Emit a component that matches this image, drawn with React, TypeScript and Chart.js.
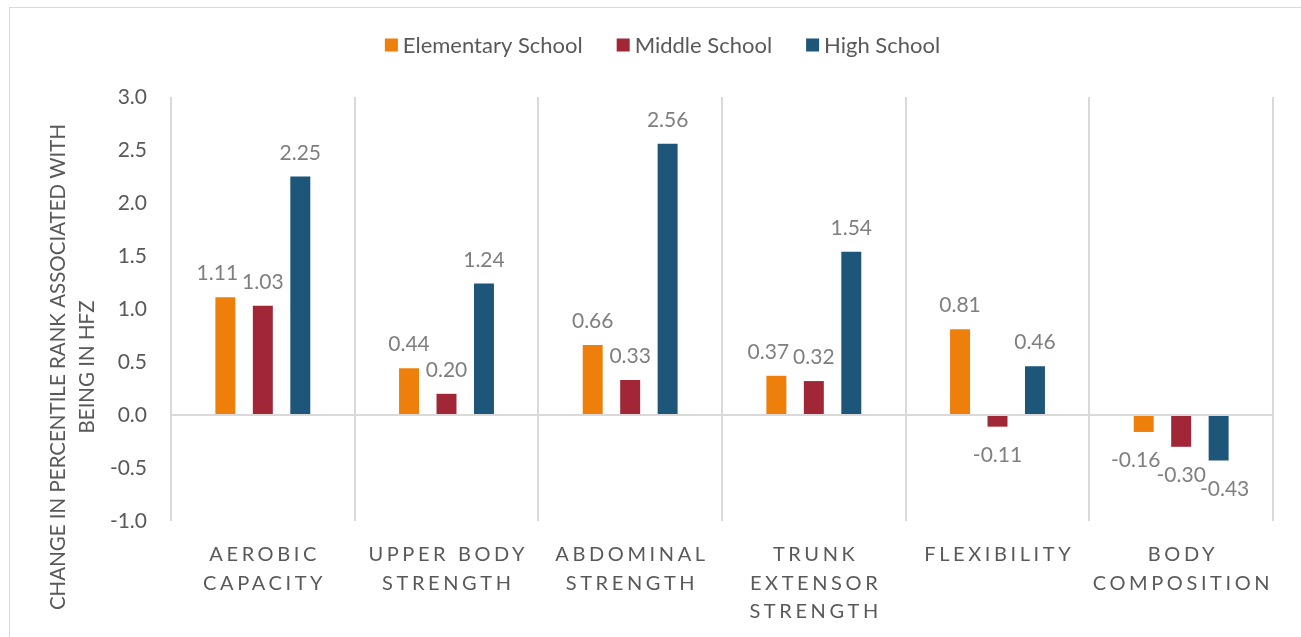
import React, { useEffect, useRef } from 'react';
import { Chart, registerables } from 'chart.js';

Chart.register(...registerables);

// Fitness test components (multi-line category labels)
const categories: string[][] = [
  ['AEROBIC', 'CAPACITY'],
  ['UPPER BODY', 'STRENGTH'],
  ['ABDOMINAL', 'STRENGTH'],
  ['TRUNK', 'EXTENSOR', 'STRENGTH'],
  ['FLEXIBILITY'],
  ['BODY', 'COMPOSITION'],
];

const seriesNames = ['Elementary School', 'Middle School', 'High School'];
const seriesColors = ['#EF7F0B', '#A12636', '#1D5678'];

const elementaryValues = [1.11, 0.44, 0.66, 0.37, 0.81, -0.16];
const middleValues = [1.03, 0.2, 0.33, 0.32, -0.11, -0.3];
const highValues = [2.25, 1.24, 2.56, 1.54, 0.46, -0.43];

const yMin = -1;
const yMax = 3;
const yStep = 0.5;

const yTitleLines = ['CHANGE IN PERCENTILE RANK ASSOCIATED WITH', 'BEING IN HFZ'];

const FONT = 'Lato, "Noto Sans", sans-serif';
const TEXT_DARK = '#595959';
const TEXT_LABEL = '#7F7F7F';
const GRID = '#D9D9D9';

// Draws value labels, the legend, category labels and the y-axis title.
const decorPlugin = {
  id: 'decor',
  afterDatasetsDraw(chart: any) {
    const ctx: CanvasRenderingContext2D = chart.ctx;
    ctx.save();
    ctx.font = `21px ${FONT}`;
    ctx.fillStyle = TEXT_LABEL;
    ctx.textAlign = 'center';
    ctx.textBaseline = 'alphabetic';
    const nSeries = chart.data.datasets.length;
    const nCats = chart.data.labels.length;
    for (let i = 0; i < nCats; i++) {
      // collect label positions for this category, then nudge overlapping neighbours apart
      const items: { text: string; x: number; y: number; w: number }[] = [];
      for (let di = 0; di < nSeries; di++) {
        const el: any = chart.getDatasetMeta(di).data[i];
        const v = chart.data.datasets[di].data[i] as number;
        const text = v.toFixed(2);
        items.push({
          text,
          x: el.x,
          y: v >= 0 ? el.y - 17 : el.y + 35,
          w: ctx.measureText(text).width,
        });
      }
      for (let k = 1; k < items.length; k++) {
        const a = items[k - 1];
        const b = items[k];
        const hOverlap = a.x + a.w / 2 + 2 > b.x - b.w / 2;
        const vOverlap = Math.abs(a.y - b.y) < 16;
        if (hOverlap && vOverlap) {
          if (k === 1) a.x -= 8;
          else b.x += 6;
        }
      }
      items.forEach((it) => ctx.fillText(it.text, it.x, it.y));
    }
    ctx.restore();
  },
  afterDraw(chart: any) {
    const ctx: CanvasRenderingContext2D = chart.ctx;
    const area = chart.chartArea;

    // Legend
    ctx.save();
    ctx.font = `22px ${FONT}`;
    ctx.textBaseline = 'middle';
    ctx.textAlign = 'left';
    const box = 13;
    const boxGap = 5;
    const itemGap = 34;
    const widths = seriesNames.map((n) => box + boxGap + ctx.measureText(n).width);
    const total = widths.reduce((a, b) => a + b, 0) + itemGap * (widths.length - 1);
    let lx = (chart.width - total) / 2 + 7;
    const ly = area.top - 52;
    seriesNames.forEach((name, i) => {
      ctx.fillStyle = seriesColors[i];
      ctx.fillRect(lx, ly - box / 2, box, box);
      ctx.fillStyle = TEXT_DARK;
      ctx.fillText(name, lx + box + boxGap, ly + 1);
      lx += widths[i] + itemGap;
    });
    ctx.restore();

    // Category labels with letter spacing
    ctx.save();
    ctx.font = `20px ${FONT}`;
    const ls = 3.6;
    (ctx as any).letterSpacing = `${ls}px`;
    ctx.fillStyle = TEXT_DARK;
    ctx.textAlign = 'center';
    ctx.textBaseline = 'alphabetic';
    const xScale = chart.scales.x;
    categories.forEach((lines, i) => {
      const cx = xScale.getPixelForValue(i) + ls / 2;
      lines.forEach((line, k) => {
        ctx.fillText(line, cx, area.bottom + 40 + k * 28.5);
      });
    });
    ctx.restore();

    // Y-axis title
    ctx.save();
    ctx.font = `20.5px ${FONT}`;
    ctx.fillStyle = TEXT_DARK;
    ctx.textAlign = 'center';
    ctx.textBaseline = 'middle';
    const cy = (area.top + chart.height) / 2;
    yTitleLines.forEach((line, k) => {
      ctx.save();
      ctx.translate(area.left - 113 + k * 29, cy);
      ctx.rotate(-Math.PI / 2);
      ctx.fillText(line, 0, 0);
      ctx.restore();
    });
    ctx.restore();
  },
};

export default function App() {
  const canvasRef = useRef<HTMLCanvasElement | null>(null);

  useEffect(() => {
    if (!canvasRef.current) return;
    const chart = new Chart(canvasRef.current, {
      type: 'bar',
      data: {
        labels: categories.map((c) => c.join(' ')),
        datasets: [
          { label: seriesNames[0], data: elementaryValues, backgroundColor: seriesColors[0] },
          { label: seriesNames[1], data: middleValues, backgroundColor: seriesColors[1] },
          { label: seriesNames[2], data: highValues, backgroundColor: seriesColors[2] },
        ],
      },
      options: {
        responsive: true,
        maintainAspectRatio: false,
        animation: false,
        datasets: {
          bar: { categoryPercentage: 0.612, barPercentage: 0.533 },
        },
        layout: { padding: { top: 89, right: 28, left: 0, bottom: 0 } },
        plugins: {
          legend: { display: false },
          tooltip: { enabled: false },
        },
        scales: {
          x: {
            offset: true,
            ticks: { display: false },
            border: { display: false },
            grid: { offset: true, color: GRID, lineWidth: 2, drawTicks: false },
            afterFit: (scale: any) => {
              scale.height = 116;
            },
          },
          y: {
            min: yMin,
            max: yMax,
            ticks: {
              stepSize: yStep,
              padding: 24,
              color: TEXT_DARK,
              font: { family: FONT, size: 21 },
              callback: (v: any) => Number(v).toFixed(1),
            },
            border: { display: false },
            grid: {
              drawTicks: false,
              lineWidth: 2,
              color: (c: any) => (c.tick && c.tick.value === 0 ? GRID : 'rgba(0,0,0,0)'),
            },
            afterFit: (scale: any) => {
              scale.width = 161;
            },
          },
        },
      },
      plugins: [decorPlugin],
    });
    return () => chart.destroy();
  }, []);

  return (
    <div
      style={{
        position: 'fixed',
        left: 9,
        top: 7,
        right: 0,
        bottom: 0,
        boxSizing: 'border-box',
        borderTop: `1px solid ${GRID}`,
        borderLeft: `1px solid ${GRID}`,
        background: '#fff',
      }}
    >
      <canvas ref={canvasRef} />
    </div>
  );
}
